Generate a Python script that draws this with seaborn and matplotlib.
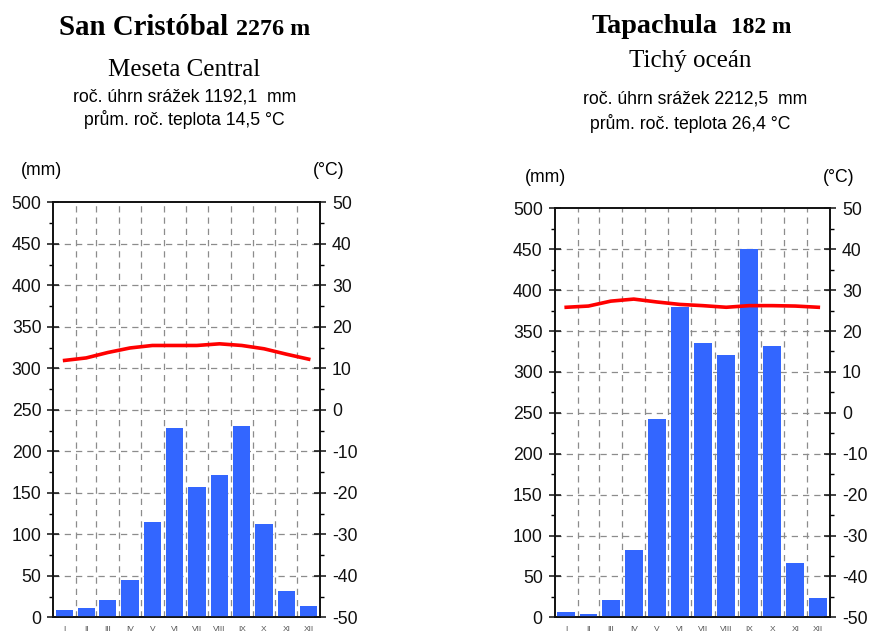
import numpy as np
import pandas as pd
import seaborn as sns
import matplotlib.pyplot as plt
from matplotlib.ticker import MultipleLocator

months = ["I", "II", "III", "IV", "V", "VI", "VII", "VIII", "IX", "X", "XI", "XII"]
month_days = [31, 28, 31, 30, 31, 30, 31, 31, 30, 31, 30, 31]

sc_precip = [9, 11, 21, 45, 115, 228, 157, 172, 230, 112, 32, 14]
sc_temp = [11.9, 12.5, 13.8, 14.9, 15.5, 15.5, 15.5, 15.9, 15.5, 14.7, 13.4, 12.2]

tp_precip = [6.5, 4, 21, 82, 242, 379, 335, 321, 450, 332, 66, 24]
tp_temp = [25.8, 26.1, 27.3, 27.8, 27.1, 26.5, 26.2, 25.8, 26.2, 26.2, 26.1, 25.8]

stations = [
    dict(name="San Cristóbal", alt="2276 m", region="Meseta Central",
         total="roč. úhrn srážek 1192,1  mm", mean="prům. roč. teplota 14,5 °C",
         precip=sc_precip, temp=sc_temp),
    dict(name="Tapachula", alt="182 m", region="Tichý oceán",
         total="roč. úhrn srážek 2212,5  mm", mean="prům. roč. teplota 26,4 °C",
         precip=tp_precip, temp=tp_temp),
]

W, H = 874, 634
BLUE = "#3366ff"
GRID = "#8c8c8c"
FS = 12.7

plt.rcParams["font.family"] = ["Liberation Sans", "DejaVu Sans"]
plt.rcParams["axes.unicode_minus"] = False

edges = np.cumsum([0] + month_days)
mids = (edges[:-1] + edges[1:]) / 2


def px(x, y):
    return x / W, 1 - y / H


def style_y(ax):
    ax.tick_params(axis="y", which="major", direction="inout", length=9,
                   width=1.1, labelsize=FS, colors="#111111", pad=4)
    ax.tick_params(axis="y", which="minor", direction="out", length=3, width=1)
    for s in ax.spines.values():
        s.set_linewidth(1.2)
        s.set_color("#111111")


def draw_station(fig, rect, st):
    ax = fig.add_axes(rect)
    df = pd.DataFrame({"day": mids, "mm": st["precip"]})
    sns.barplot(data=df, x="day", y="mm", native_scale=True, width=0.8,
                color=BLUE, saturation=1, errorbar=None, ax=ax, zorder=3)
    ax.set_xlim(0, 365)
    ax.set_ylim(0, 500)
    ax.set_xlabel("")
    ax.set_ylabel("")
    ax.yaxis.set_major_locator(MultipleLocator(50))
    ax.yaxis.set_minor_locator(MultipleLocator(25))
    ax.set_xticks(mids)
    ax.set_xticklabels(months, fontsize=6, color="#555555")
    ax.tick_params(axis="x", length=0, pad=6)
    style_y(ax)
    for y in range(50, 500, 50):
        ax.axhline(y, color=GRID, lw=0.9, ls=(0, (5, 4)), zorder=1)
    for x in edges[1:-1]:
        ax.axvline(x, color=GRID, lw=0.9, ls=(0, (5, 4)), zorder=1)

    ax2 = ax.twinx()
    sns.lineplot(x=mids, y=st["temp"], ax=ax2, color="red", linewidth=2.6)
    ax2.set_ylim(-50, 50)
    ax2.yaxis.set_major_locator(MultipleLocator(10))
    ax2.yaxis.set_minor_locator(MultipleLocator(5))
    style_y(ax2)
    return ax


fig = plt.figure(figsize=(W / 100, H / 100), dpi=100)

draw_station(fig, [53.3 / W, 16.7 / H, 266.7 / W, 415 / H], stations[0])
draw_station(fig, [554.5 / W, 16.7 / H, 275.5 / W, 409 / H], stations[1])

serif = ["Liberation Serif", "DejaVu Serif"]

# left header
fig.text(*px(228, 35), stations[0]["name"], ha="right", va="baseline",
         family=serif, fontweight="bold", fontsize=20.8)
fig.text(*px(236, 35), stations[0]["alt"], ha="left", va="baseline",
         family=serif, fontweight="bold", fontsize=17.3)
fig.text(*px(184, 76), stations[0]["region"], ha="center", va="baseline",
         family=serif, fontsize=18)
fig.text(*px(185, 101), stations[0]["total"], ha="center", va="baseline", fontsize=FS)
fig.text(*px(184, 125), stations[0]["mean"], ha="center", va="baseline", fontsize=FS)
fig.text(*px(42, 175), "(mm)", ha="center", va="baseline", fontsize=FS)
fig.text(*px(329, 175), "(°C)", ha="center", va="baseline", fontsize=FS)

# right header
fig.text(*px(718, 33), stations[1]["name"], ha="right", va="baseline",
         family=serif, fontweight="bold", fontsize=20.3)
fig.text(*px(731, 33), stations[1]["alt"], ha="left", va="baseline",
         family=serif, fontweight="bold", fontsize=16.8)
fig.text(*px(690, 67), stations[1]["region"], ha="center", va="baseline",
         family=serif, fontsize=18)
fig.text(*px(695, 104), stations[1]["total"], ha="center", va="baseline", fontsize=FS)
fig.text(*px(690, 129), stations[1]["mean"], ha="center", va="baseline", fontsize=FS)
fig.text(*px(546, 182), "(mm)", ha="center", va="baseline", fontsize=FS)
fig.text(*px(839, 182), "(°C)", ha="center", va="baseline", fontsize=FS)

fig.savefig("out.png", dpi=100)
